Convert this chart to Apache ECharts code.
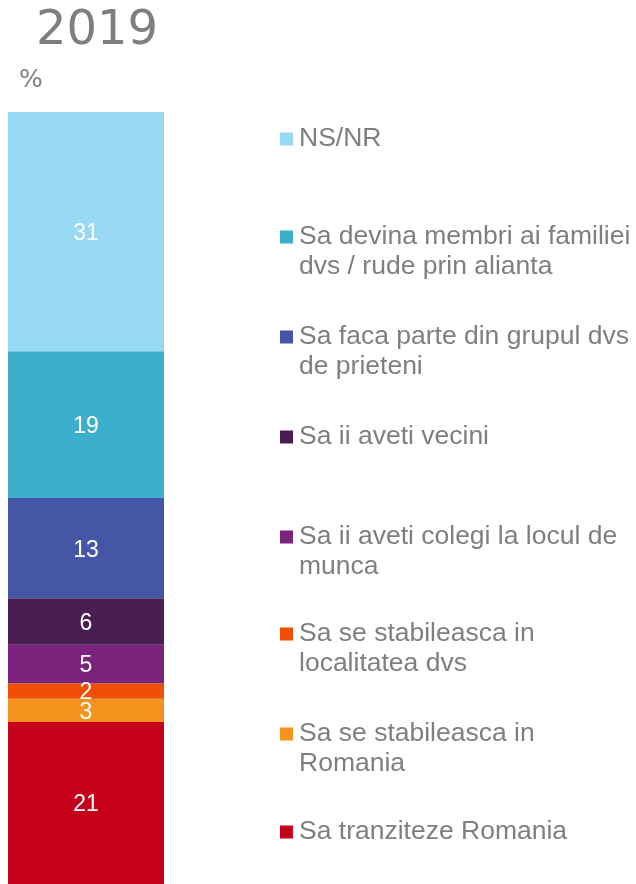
<!DOCTYPE html>
<html>
<head>
<meta charset="utf-8">
<script src="https://cdn.jsdelivr.net/npm/echarts@6/dist/echarts.min.js"></script>
<style>
html,body{margin:0;padding:0;background:#fff;}
#c{width:636px;height:884px;}
</style>
</head>
<body>
<div id="c"></div>
<script>
// Data (bottom to top of the stacked bar)
const categories = ['2019'];
const seriesNames = [
  'Sa tranziteze Romania',
  'Sa se stabileasca in\nRomania',
  'Sa se stabileasca in\nlocalitatea dvs',
  'Sa ii aveti colegi la locul de\nmunca',
  'Sa ii aveti vecini',
  'Sa faca parte din grupul dvs\nde prieteni',
  'Sa devina membri ai familiei\ndvs / rude prin alianta',
  'NS/NR'
];
const seriesValues = [21, 3, 2, 5, 6, 13, 19, 31];
const seriesColors = ['#C50018', '#F6921E', '#F05006', '#7A237C', '#4A1E52', '#4656A6', '#3BAFCB', '#97D9F3'];
// legend first-line centre y positions
const legendCenters = [830, 732, 632, 535, 435, 335, 235, 137];

const chart = echarts.init(document.getElementById('c'), null, {renderer: 'canvas'});

const series = seriesNames.map((n, i) => ({
  name: n,
  type: 'bar',
  stack: 'total',
  barWidth: '100%',
  data: [seriesValues[i]],
  itemStyle: {color: seriesColors[i]},
  label: {
    show: true,
    position: 'inside',
    offset: [0, 2],
    color: '#fff',
    fontFamily: 'Liberation Sans',
    fontSize: 23
  }
}));

const legends = seriesNames.map((n, i) => {
  const twoLine = n.indexOf('\n') >= 0;
  return {
    data: [n],
    left: 280,
    top: legendCenters[i] - 13,
    padding: 0,
    orient: 'vertical',
    selectedMode: false,
    icon: twoLine ? 'path://M0,0h13v13h-13z M0,42.98h0.02v0.02h-0.02z' : 'rect',
    itemWidth: 13,
    itemHeight: twoLine ? 43 : 13,
    itemGap: 0,
    textStyle: {
      color: '#7F7F7F',
      fontFamily: 'Liberation Sans',
      fontSize: 26.5,
      lineHeight: 30,
      padding: [0, 0, 0, 1]
    }
  };
});

chart.setOption({
  animation: false,
  title: [
    {text: '2019', left: 36, top: 8, padding: 0,
     textStyle: {color: '#7F7F7F', fontFamily: 'DejaVu Sans', fontSize: 48, fontWeight: 'normal'}},
    {text: '%', left: 19, top: 68, padding: 0,
     textStyle: {color: '#7F7F7F', fontFamily: 'DejaVu Sans', fontSize: 25, fontWeight: 'normal'}}
  ],
  legend: legends,
  grid: {left: 8, top: 112, width: 156, bottom: 0, containLabel: false},
  xAxis: {type: 'category', data: categories, show: false},
  yAxis: {type: 'value', min: 0, max: 100, show: false},
  series: series
});
</script>
</body>
</html>
